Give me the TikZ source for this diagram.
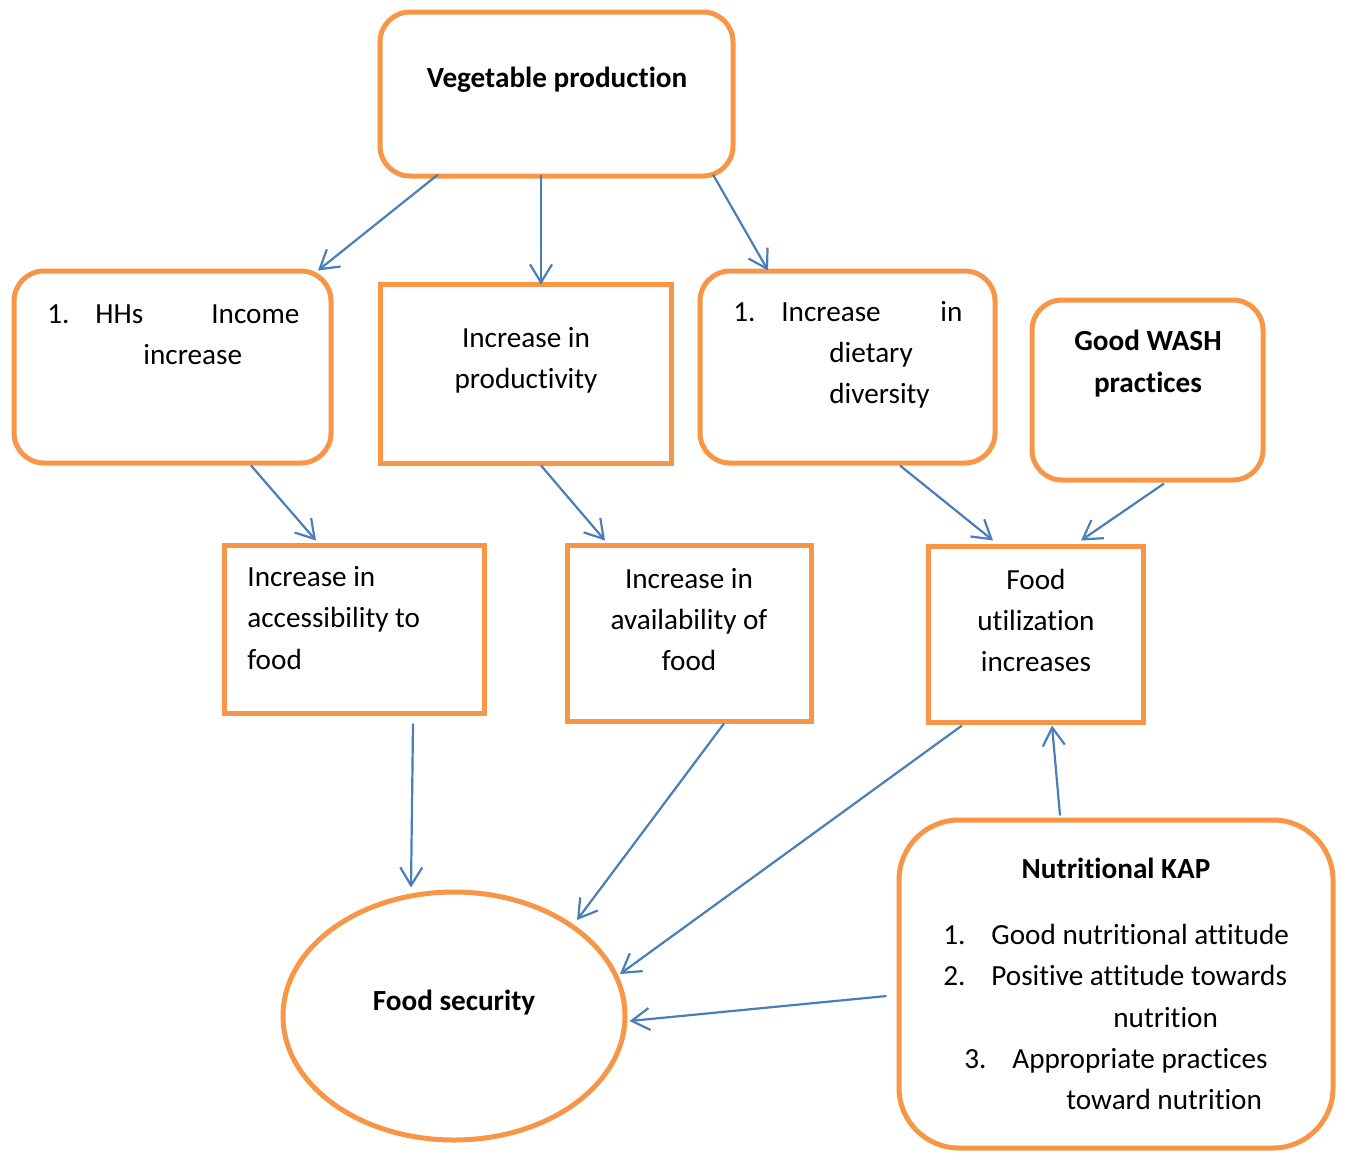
\documentclass[tikz,border=0pt]{standalone}
\usepackage{fontspec}
\setmainfont{Carlito}[Ligatures=NoCommon]
\usetikzlibrary{arrows.meta,calc,shapes.geometric}
\definecolor{boxorange}{RGB}{247,150,70}
\definecolor{arrowblue}{RGB}{74,126,187}
\tikzset{
  rbox/.style={draw=boxorange,line width=2.5pt,rounded corners=15pt,inner sep=0pt},
  sbox/.style={draw=boxorange,line width=2.5pt,inner sep=0pt},
  txt/.style={inner sep=0pt,font=\fontsize{14.6}{20.6}\selectfont},
  btxt/.style={txt,font=\fontsize{14.6}{20.6}\selectfont\bfseries},
  link/.style={draw=arrowblue,line width=1.1pt,-{Straight Barb[length=9pt,width=11pt]}}
}
\begin{document}
\begin{tikzpicture}[x=0.5pt,y=-0.5pt]
\useasboundingbox (0,0) rectangle (1348,1152);
% boxes
\node[rbox,minimum width=176.5pt,minimum height=82pt] (veg) at (556.5,94) {};
\node[rbox,minimum width=158.5pt,minimum height=96pt] (hhs) at (172.5,367) {};
\node[sbox,minimum width=145.5pt,minimum height=89.5pt] (prod) at (525.5,373.5) {};
\node[rbox,minimum width=147.5pt,minimum height=96pt] (diet) at (847.5,367) {};
\node[rbox,minimum width=115.5pt,minimum height=90pt] (wash) at (1147.5,390) {};
\node[sbox,minimum width=130pt,minimum height=84pt] (acc) at (354,629) {};
\node[sbox,minimum width=122pt,minimum height=88pt] (avail) at (689,633) {};
\node[sbox,minimum width=107.5pt,minimum height=88pt] (util) at (1035.5,634) {};
\node[ellipse,draw=boxorange,line width=2.5pt,minimum width=171pt,minimum height=124pt,inner sep=0pt] (fs) at (454,1016) {};
\node[rbox,rounded corners=30pt,minimum width=217pt,minimum height=164pt] (kap) at (1116,984) {};
% texts
\node[btxt] (vegT) at (557,80) {Vegetable production};
\node[txt,anchor=west,align=left] (hhsT) at (47,334.5) {\makebox[126pt][l]{\makebox[24pt][l]{1.}HHs\hfill Income}\\\hspace*{48pt}increase};
\node[txt,align=center] (prodT) at (526,360.5) {Increase in\\productivity};
\node[txt,anchor=west,align=left] (dietT) at (733,355) {\makebox[114.5pt][l]{\makebox[24pt][l]{1.}Increase\hfill in}\\\hspace*{48pt}dietary\\\hspace*{48pt}diversity};
\node[btxt,align=center] (washT) at (1148,363.5) {Good WASH\\practices};
\node[txt,anchor=west,align=left] (accT) at (247,618) {Increase in\\accessibility to\\food};
\node[txt,align=center] (availT) at (689,619.5) {Increase in\\availability of\\food};
\node[txt,align=center] (utilT) at (1036,620.5) {Food\\utilization\\increases};
\node[btxt] (fsT) at (454,1003) {Food security};
\node[btxt] (kapT) at (1116,868) {Nutritional KAP};
\node[txt,anchor=west,align=left] (kapL) at (943,1017) {\makebox[24pt][l]{1.}Good nutritional attitude\\\makebox[24pt][l]{2.}Positive attitude towards\\\hspace*{85pt}nutrition\\\hspace*{10.5pt}\makebox[24pt][l]{3.}Appropriate practices\\\hspace*{61.5pt}toward nutrition};
% connectors
\draw[link] ($(veg.south)+(-118.5,-4)$) -- ($(hhs.north)+(145.5,2)$);
\draw[link] ($(veg.south)+(-15.5,-4)$) -- ($(prod.north)+(15.5,3)$);
\draw[link] ($(veg.south)+(156.5,-4)$) -- ($(diet.north)+(-79.5,2)$);
\draw[link] ($(hhs.south)+(78.5,0)$) -- ($(acc.north)+(-38,-2)$);
\draw[link] ($(prod.south)+(15.5,0)$) -- ($(avail.north)+(-84,-2)$);
\draw[link] ($(diet.south)+(52.5,0)$) -- ($(util.north)+(-42.5,-3)$);
\draw[link] ($(wash.south)+(16.5,1)$) -- ($(util.north)+(45.5,-3)$);
\draw[link] ($(acc.south)+(59,8)$) -- ($(fs.north)+(-43,-2)$);
\draw[link] ($(avail.south)+(35,0)$) -- ($(fs.center)+(123,-96)$);
\draw[link] ($(util.south)+(-73.5,1)$) -- ($(fs.center)+(166,-42)$);
\draw[link] ($(kap.north)+(-56,-2)$) -- ($(util.south)+(16.5,1)$);
\draw[link] ($(kap.west)+(-10,12)$) -- ($(fs.east)+(2,5)$);
\end{tikzpicture}
\end{document}
